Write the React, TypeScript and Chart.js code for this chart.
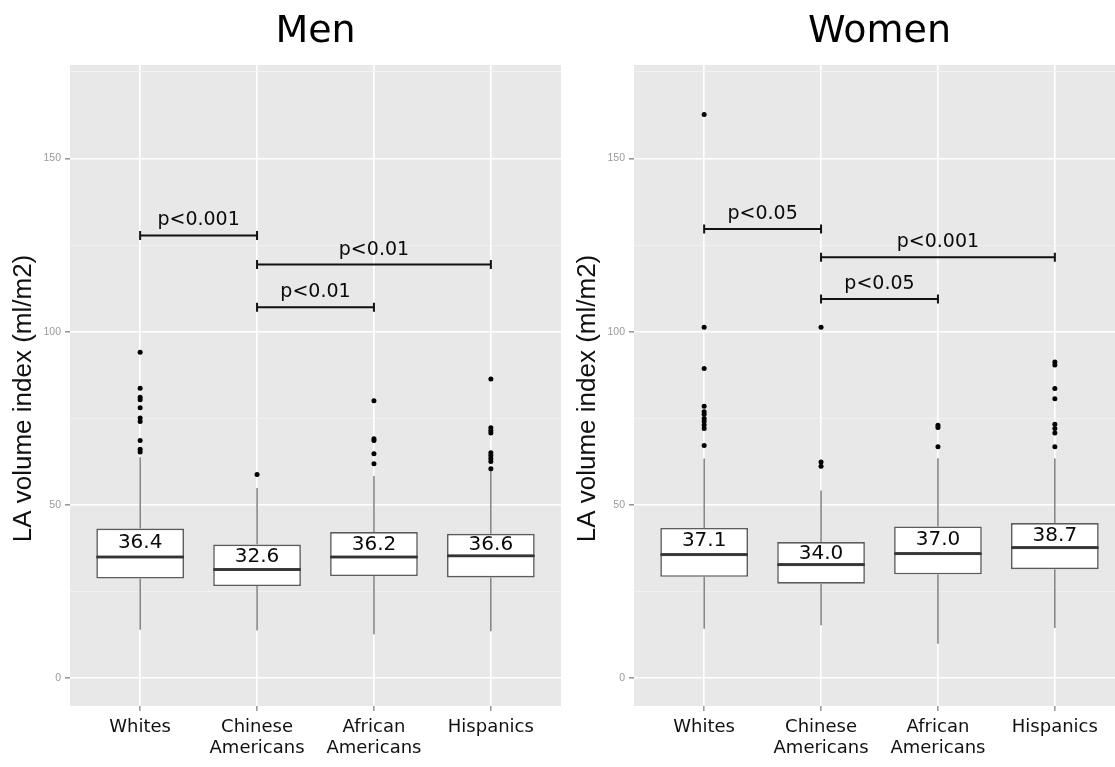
import React, { useEffect, useRef } from 'react';
import { Chart, registerables } from 'chart.js';

Chart.register(...registerables);

// ---------- data ----------
const categories: string[][] = [['Whites'], ['Chinese', 'Americans'], ['African', 'Americans'], ['Hispanics']];
const categoryIndex = [0, 1, 2, 3];
const yMajorTicks = [0, 50, 100, 150];
const yAllTicks = [0, 25, 50, 75, 100, 125, 150, 175];
const yTitle = 'LA volume index (ml/m2)';

// Men
const menQ1 = [28.8, 26.6, 29.5, 29.1];
const menMedian = [35.0, 31.4, 35.0, 35.3];
const menQ3 = [43.2, 38.6, 42.2, 41.7];
const menWhiskerLow = [14.0, 13.8, 12.7, 13.6];
const menWhiskerHigh = [63.8, 54.9, 58.4, 60.0];
const menMeanLabels = ['36.4', '32.6', '36.2', '36.6'];
const menOutliers: number[][] = [
  [94.1, 83.7, 81.1, 80.4, 78.1, 75.1, 74.1, 68.6, 66.1, 65.3],
  [58.8],
  [80.1, 69.1, 68.6, 64.8, 61.9],
  [86.4, 72.3, 71.5, 70.8, 65.1, 64.3, 63.4, 62.6, 60.5],
];
const menBracketFrom = [0, 1, 1];
const menBracketTo = [1, 3, 2];
const menBracketY = [127.8, 119.4, 107.1];
const menBracketLabels = ['p<0.001', 'p<0.01', 'p<0.01'];

// Women
const womenQ1 = [29.3, 27.3, 30.0, 31.5];
const womenMedian = [35.7, 32.8, 36.0, 37.7];
const womenQ3 = [43.4, 39.3, 43.8, 44.8];
const womenWhiskerLow = [14.3, 15.3, 10.0, 14.5];
const womenWhiskerHigh = [63.4, 54.2, 63.5, 63.4];
const womenMeanLabels = ['37.1', '34.0', '37.0', '38.7'];
const womenOutliers: number[][] = [
  [162.7, 101.3, 89.4, 78.5, 76.9, 76.2, 75.0, 74.1, 73.1, 72.1, 67.2],
  [101.3, 62.4, 61.2],
  [73.0, 72.4, 66.8],
  [91.3, 90.4, 83.6, 80.7, 73.3, 72.1, 70.8, 66.8],
];
const womenBracketFrom = [0, 1, 1];
const womenBracketTo = [1, 3, 2];
const womenBracketY = [129.7, 121.5, 109.5];
const womenBracketLabels = ['p<0.05', 'p<0.001', 'p<0.05'];

// ---------- styles ----------
const PANEL_BG = '#E8E8E8';
const MINOR_GRID = '#F2F2F2';
const SANS = '"DejaVu Sans", Verdana, sans-serif';
const ARIAL = '"Liberation Sans", Arial, sans-serif';

type PanelData = {
  title: string;
  q1: number[];
  median: number[];
  q3: number[];
  wLow: number[];
  wHigh: number[];
  labels: string[];
  outliers: number[][];
  bFrom: number[];
  bTo: number[];
  bY: number[];
  bLabels: string[];
};

function makePlugin(p: PanelData) {
  return {
    id: 'panelDecor',
    beforeDraw(chart: any) {
      const { ctx, chartArea: a } = chart;
      ctx.save();
      ctx.fillStyle = PANEL_BG;
      ctx.fillRect(a.left, a.top, a.right - a.left, a.bottom - a.top);
      ctx.restore();
    },
    afterDatasetsDraw(chart: any) {
      const ctx = chart.ctx;
      const xs = chart.scales.x;
      const ys = chart.scales.y;
      ctx.save();
      ctx.fillStyle = '#0a0a0a';
      ctx.textAlign = 'center';
      ctx.textBaseline = 'middle';
      ctx.font = `20px ${SANS}`;
      p.labels.forEach((t, i) => {
        const x = xs.getPixelForValue(categoryIndex[i]);
        const y = (ys.getPixelForValue(p.median[i]) + ys.getPixelForValue(p.q3[i])) / 2;
        ctx.fillText(t, x, y);
      });
      ctx.strokeStyle = '#111';
      ctx.lineWidth = 2;
      ctx.font = `19px ${SANS}`;
      p.bFrom.forEach((f, k) => {
        const x1 = xs.getPixelForValue(f);
        const x2 = xs.getPixelForValue(p.bTo[k]);
        const y = ys.getPixelForValue(p.bY[k]);
        ctx.beginPath();
        ctx.moveTo(x1, y);
        ctx.lineTo(x2, y);
        ctx.moveTo(x1, y - 4.5);
        ctx.lineTo(x1, y + 4.5);
        ctx.moveTo(x2, y - 4.5);
        ctx.lineTo(x2, y + 4.5);
        ctx.stroke();
        ctx.fillText(p.bLabels[k], (x1 + x2) / 2, y - 15);
      });
      ctx.restore();
    },
    afterDraw(chart: any) {
      const { ctx, chartArea: a } = chart;
      ctx.save();
      ctx.translate(a.left - 46, (a.top + a.bottom) / 2 + 13);
      ctx.rotate(-Math.PI / 2);
      ctx.fillStyle = '#111';
      ctx.textAlign = 'center';
      ctx.textBaseline = 'middle';
      ctx.font = `26px ${ARIAL}`;
      ctx.fillText(yTitle, 0, 0);
      ctx.restore();
    },
  };
}

function Panel({ data, left }: { data: PanelData; left: number }) {
  const ref = useRef<HTMLCanvasElement | null>(null);

  useEffect(() => {
    if (!ref.current) return;
    const p = data;
    const boxWidthPx = (ctx: any) => {
      const xs = ctx.chart.scales.x;
      return Math.abs(xs.getPixelForValue(0.375) - xs.getPixelForValue(0));
    };
    const outlierPoints: { x: number; y: number }[] = [];
    p.outliers.forEach((arr, i) => arr.forEach((v) => outlierPoints.push({ x: categoryIndex[i], y: v })));

    const chart = new Chart(ref.current, {
      type: 'bar',
      data: {
        datasets: [
          {
            type: 'bar',
            label: 'whisker low',
            data: categoryIndex.map((i) => ({ x: i, y: [p.wLow[i], p.q1[i]] })) as any,
            backgroundColor: '#606060',
            borderWidth: 0,
            grouped: false,
            maxBarThickness: 1.2,
            order: 6,
          },
          {
            type: 'bar',
            label: 'whisker high',
            data: categoryIndex.map((i) => ({ x: i, y: [p.q3[i], p.wHigh[i]] })) as any,
            backgroundColor: '#606060',
            borderWidth: 0,
            grouped: false,
            maxBarThickness: 1.2,
            order: 6,
          },
          {
            type: 'bar',
            label: 'box lower',
            data: categoryIndex.map((i) => ({ x: i, y: [p.q1[i], p.median[i]] })) as any,
            backgroundColor: '#ffffff',
            borderColor: '#5c5c5c',
            borderWidth: 1.6,
            borderSkipped: false,
            grouped: false,
            categoryPercentage: 0.75,
            barPercentage: 1,
            order: 5,
          },
          {
            type: 'bar',
            label: 'box upper',
            data: categoryIndex.map((i) => ({ x: i, y: [p.median[i], p.q3[i]] })) as any,
            backgroundColor: '#ffffff',
            borderColor: '#5c5c5c',
            borderWidth: 1.6,
            borderSkipped: false,
            grouped: false,
            categoryPercentage: 0.75,
            barPercentage: 1,
            order: 5,
          },
          {
            type: 'line',
            label: 'median',
            data: categoryIndex.map((i) => ({ x: i, y: p.median[i] })) as any,
            showLine: false,
            pointStyle: 'line',
            pointRadius: boxWidthPx as any,
            pointHoverRadius: boxWidthPx as any,
            pointBorderColor: '#333333',
            pointBorderWidth: 2.3,
            borderColor: '#333333',
            order: 4,
          },
          {
            type: 'line',
            label: 'outliers',
            data: outlierPoints as any,
            showLine: false,
            pointStyle: 'circle',
            pointRadius: 2.5,
            pointBackgroundColor: '#000',
            pointBorderWidth: 0,
            borderColor: '#000',
            order: 3,
          },
        ],
      },
      options: {
        responsive: false,
        animation: false,
        events: [],
        layout: { padding: { top: 0, right: 4, bottom: 0, left: 0 } },
        plugins: {
          legend: { display: false },
          tooltip: { enabled: false },
          title: {
            display: true,
            text: p.title,
            color: '#000',
            font: { family: SANS, size: 38, weight: 'normal', lineHeight: 1.2 },
            padding: { top: 9, bottom: 10.4 },
            fullSize: false,
          },
        },
        scales: {
          x: {
            type: 'linear',
            min: -0.6,
            max: 3.6,
            offset: false,
            afterBuildTicks: (s: any) => {
              s.ticks = categoryIndex.map((v) => ({ value: v }));
            },
            afterFit: (s: any) => {
              s.height = 61;
            },
            ticks: {
              callback: (v: any) => categories[Math.round(Number(v))] as any,
              color: '#111',
              font: { family: SANS, size: 18, lineHeight: 1.15 },
              padding: 6,
              autoSkip: false,
              maxRotation: 0,
              minRotation: 0,
            },
            grid: { color: '#ffffff', lineWidth: 1.6, tickLength: 5, tickColor: '#999', offset: false },
            border: { display: false },
          },
          y: {
            type: 'linear',
            min: -8,
            max: 177,
            afterBuildTicks: (s: any) => {
              s.ticks = yAllTicks.map((v) => ({ value: v }));
            },
            afterFit: (s: any) => {
              s.width = 70;
            },
            ticks: {
              callback: (v: any) => (yMajorTicks.includes(Number(v)) ? String(v) : ''),
              color: '#9a9a9a',
              font: { family: ARIAL, size: 10.5 },
              padding: 4,
              autoSkip: false,
            },
            grid: {
              color: (c: any) => (c.tick && yMajorTicks.includes(c.tick.value) ? '#ffffff' : MINOR_GRID),
              lineWidth: (c: any) => (c.tick && yMajorTicks.includes(c.tick.value) ? 1.6 : 0.8),
              tickLength: 5,
              tickColor: (c: any) => (c.tick && yMajorTicks.includes(c.tick.value) ? '#999' : 'rgba(0,0,0,0)'),
            },
            border: { display: false },
          },
        },
      },
      plugins: [makePlugin(p)],
    } as any);
    return () => chart.destroy();
  }, [data]);

  return (
    <div style={{ position: 'absolute', left, top: 0, width: 565, height: 767 }}>
      <canvas ref={ref} width={565} height={767} style={{ display: 'block' }} />
    </div>
  );
}

const menData: PanelData = {
  title: 'Men',
  q1: menQ1,
  median: menMedian,
  q3: menQ3,
  wLow: menWhiskerLow,
  wHigh: menWhiskerHigh,
  labels: menMeanLabels,
  outliers: menOutliers,
  bFrom: menBracketFrom,
  bTo: menBracketTo,
  bY: menBracketY,
  bLabels: menBracketLabels,
};

const womenData: PanelData = {
  title: 'Women',
  q1: womenQ1,
  median: womenMedian,
  q3: womenQ3,
  wLow: womenWhiskerLow,
  wHigh: womenWhiskerHigh,
  labels: womenMeanLabels,
  outliers: womenOutliers,
  bFrom: womenBracketFrom,
  bTo: womenBracketTo,
  bY: womenBracketY,
  bLabels: womenBracketLabels,
};

export default function App() {
  return (
    <div
      style={{
        position: 'absolute',
        left: 0,
        top: 0,
        width: 1115,
        height: 767,
        overflow: 'hidden',
        background: '#ffffff',
      }}
    >
      <Panel data={menData} left={0} />
      <Panel data={womenData} left={564} />
    </div>
  );
}
